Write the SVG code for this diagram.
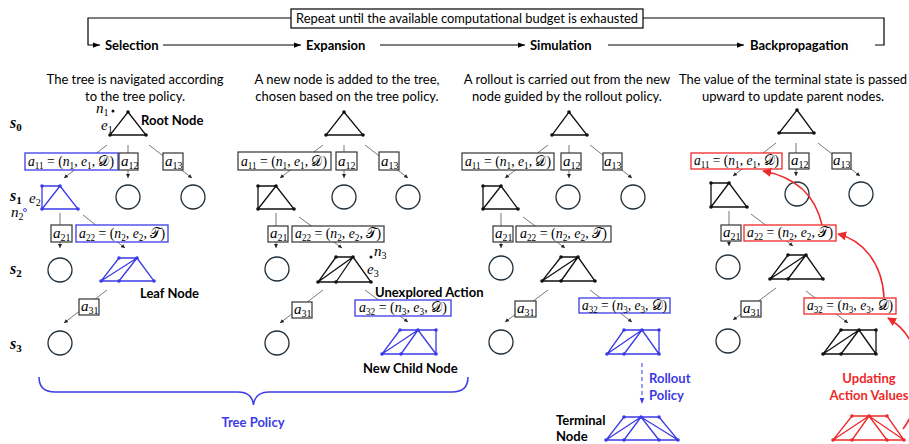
<svg xmlns="http://www.w3.org/2000/svg" width="909" height="444" viewBox="0 0 909 444">
<style>
.t{font-family:Lato,"Open Sans",sans-serif;font-size:13px;fill:#000}
.b{font-family:Lato,"Open Sans",sans-serif;font-size:13px;font-weight:bold;fill:#000}
.blue{fill:#3b3be6}
.red{fill:#ee2a2a}
.m{font-family:"Liberation Serif","DejaVu Serif",serif;font-size:15px;fill:#000}
.i{font-style:italic}
.sb{font-size:10px}
.rl{font-family:"Liberation Serif","DejaVu Serif",serif;font-size:16px;font-weight:bold;font-style:italic}
.rs{font-size:11px;font-style:normal}
.box{fill:#fff;stroke:#333;stroke-width:1.2}
.bbox{fill:#fff;stroke:#3b3be6;stroke-width:1.3}
.rbox{fill:#fff;stroke:#ee2a2a;stroke-width:1.3}
.edge{stroke:#555;stroke-width:0.8;fill:none;marker-end:url(#sa)}
.circ{fill:none;stroke:#1f2f3a;stroke-width:1.3}
.sh{fill:none;stroke:#111;stroke-width:1.3}
.shb{fill:none;stroke:#3b3be6;stroke-width:1.3}
.shr{fill:none;stroke:#ee2a2a;stroke-width:1.3}
.dk{fill:#111}
.db{fill:#3b3be6}
.dr{fill:#ee2a2a}
.line{stroke:#000;stroke-width:1.2;fill:none}
</style>
<defs>
<marker id="ah" viewBox="0 0 8 8" refX="8" refY="4" markerWidth="7" markerHeight="7" markerUnits="userSpaceOnUse" orient="auto"><path d="M0,1 L8,4 L0,7 z" fill="#000"/></marker>
<marker id="sa" viewBox="0 0 6 6" refX="6" refY="3" markerWidth="4" markerHeight="4" markerUnits="userSpaceOnUse" orient="auto"><path d="M0,0 L6,3 L0,6 z" fill="#222"/></marker>
<marker id="ba" viewBox="0 0 8 8" refX="8" refY="4" markerWidth="6" markerHeight="6" markerUnits="userSpaceOnUse" orient="auto"><path d="M0,1 L8,4 L0,7 z" fill="#3b3be6"/></marker>
<marker id="ra" viewBox="0 0 10 10" refX="9" refY="5" markerWidth="9" markerHeight="9" markerUnits="userSpaceOnUse" orient="auto"><path d="M0,0 L10,5 L0,10 z" fill="#ee2a2a"/></marker>
</defs>
<rect width="909" height="444" fill="#fff"/>

<!-- header loop -->
<g id="loop">
<path class="line" d="M291,18 H88 V45 H100" marker-end="url(#ah)"/>
<path class="line" d="M643,18 H884 V45 H875"/>
<rect x="291" y="9" width="352" height="19" fill="#fff" stroke="#000" stroke-width="1.2"/>
<text x="296" y="23" class="t" textLength="342" lengthAdjust="spacingAndGlyphs">Repeat until the available computational budget is exhausted</text>
</g>
<g id="phase-connectors">
<line class="line" x1="163" y1="45" x2="301" y2="45" marker-end="url(#ah)"/>
<line class="line" x1="380" y1="45" x2="525" y2="45" marker-end="url(#ah)"/>
<line class="line" x1="608" y1="45" x2="744" y2="45" marker-end="url(#ah)"/>
</g>
<g id="phase-selection"><text x="105" y="50" class="b">Selection</text>
<text x="135" y="84" class="t" text-anchor="middle">The tree is navigated according</text>
<text x="135" y="101" class="t" text-anchor="middle">to the tree policy.</text></g>
<g id="phase-expansion"><text x="306" y="50" class="b">Expansion</text>
<text x="347" y="84" class="t" text-anchor="middle">A new node is added to the tree,</text>
<text x="347" y="101" class="t" text-anchor="middle">chosen based on the tree policy.</text></g>
<g id="phase-simulation"><text x="530" y="50" class="b">Simulation</text>
<text x="567" y="84" class="t" text-anchor="middle">A rollout is carried out from the new</text>
<text x="567" y="101" class="t" text-anchor="middle">node guided by the rollout policy.</text></g>
<g id="phase-backprop"><text x="750" y="50" class="b">Backpropagation</text>
<text x="793" y="84" class="t" text-anchor="middle">The value of the terminal state is passed</text>
<text x="793" y="101" class="t" text-anchor="middle">upward to update parent nodes.</text></g>

<!-- row labels -->
<g id="rows">
<text x="10" y="128" class="rl">s<tspan class="rs" dy="3">0</tspan></text>
<text x="10" y="201" class="rl">s<tspan class="rs" dy="3">1</tspan></text>
<text x="10" y="274" class="rl">s<tspan class="rs" dy="3">2</tspan></text>
<text x="10" y="349" class="rl">s<tspan class="rs" dy="3">3</tspan></text>
</g>

<!-- connectors -->
<g id="connectors">
<line class="edge" x1="107" y1="145" x2="64" y2="178"/>
<line class="edge" x1="128" y1="145" x2="128" y2="178"/>
<line class="edge" x1="149" y1="145" x2="192" y2="178"/>
<line class="edge" x1="60" y1="213" x2="60" y2="248"/>
<line class="edge" x1="83" y1="215" x2="125" y2="248"/>
<line class="edge" x1="107" y1="290" x2="64" y2="323"/>
<line class="edge" x1="323" y1="145" x2="280" y2="178"/>
<line class="edge" x1="344" y1="145" x2="344" y2="178"/>
<line class="edge" x1="365" y1="145" x2="408" y2="178"/>
<line class="edge" x1="276" y1="213" x2="276" y2="248"/>
<line class="edge" x1="299" y1="217" x2="342" y2="248"/>
<line class="edge" x1="323" y1="290" x2="280" y2="323"/>
<line class="edge" x1="365" y1="290" x2="408" y2="322"/>
<line class="edge" x1="548" y1="145" x2="505" y2="178"/>
<line class="edge" x1="569" y1="145" x2="569" y2="178"/>
<line class="edge" x1="590" y1="145" x2="632" y2="178"/>
<line class="edge" x1="501" y1="213" x2="501" y2="248"/>
<line class="edge" x1="523" y1="217" x2="565" y2="248"/>
<line class="edge" x1="548" y1="290" x2="505" y2="322"/>
<line class="edge" x1="590" y1="290" x2="632" y2="322"/>
<line x1="642" y1="363" x2="642" y2="404" stroke="#3b3be6" stroke-width="1" stroke-dasharray="4,3" marker-end="url(#ba)"/>
<line class="edge" x1="776" y1="143" x2="733" y2="176"/>
<line class="edge" x1="796" y1="143" x2="796" y2="176"/>
<line class="edge" x1="818" y1="143" x2="860" y2="176"/>
<line class="edge" x1="729" y1="211" x2="729" y2="246"/>
<line class="edge" x1="751" y1="214" x2="793" y2="246"/>
<line class="edge" x1="776" y1="288" x2="733" y2="320"/>
<line class="edge" x1="806" y1="291" x2="848" y2="323"/>
</g>

<!-- ===== Column 1: Selection ===== -->
<g id="c1-root">
<path class="sh" d="M128,112 L146,135 H110 Z"/>
<circle class="dk" cx="128" cy="112" r="1.8"/><circle class="dk" cx="110" cy="135" r="1.8"/><circle class="dk" cx="146" cy="135" r="1.8"/>
<text x="96" y="113" class="m i">n<tspan class="sb" dy="3" font-style="normal">1</tspan></text>
<circle cx="113" cy="111" r="1.5" fill="#111"/>
<text x="101" y="130" class="m i">e<tspan class="sb" dy="3" font-style="normal">1</tspan></text>
<text x="141" y="125" class="b">Root Node</text>
</g>
<g id="c1-a11"><rect class="bbox" x="25" y="153" width="93" height="17"/>
<text x="28" y="166" class="m blue" textLength="86" lengthAdjust="spacingAndGlyphs"><tspan class="i">a</tspan><tspan class="sb" dy="3">11</tspan><tspan dy="-3"> = (</tspan><tspan class="i">n</tspan><tspan class="sb" dy="3">1</tspan><tspan dy="-3">, </tspan><tspan class="i">e</tspan><tspan class="sb" dy="3">1</tspan><tspan dy="-3">, 𝒟)</tspan></text></g>
<g id="c1-a12"><rect class="box" x="119" y="153" width="19" height="17"/>
<text x="121" y="166" class="m"><tspan class="i">a</tspan><tspan class="sb" dy="3">12</tspan></text></g>
<g id="c1-a13"><rect class="box" x="163" y="153" width="20" height="17"/>
<text x="165" y="166" class="m"><tspan class="i">a</tspan><tspan class="sb" dy="3">13</tspan></text></g>
<g id="c1-s1-n2"><circle class="circ" cx="128" cy="197" r="12"/></g>
<g id="c1-s1-n3"><circle class="circ" cx="193" cy="197" r="12"/></g>
<g id="c1-s1-n1">
<path class="shb" d="M42,186 H60 L78,209 H42 Z M60,186 L42,209"/>
<circle class="db" cx="42" cy="186" r="1.8"/><circle class="db" cx="60" cy="186" r="1.8"/><circle class="db" cx="42" cy="209" r="1.8"/><circle class="db" cx="78" cy="209" r="1.8"/>
<text x="29" y="203" class="m i blue">e<tspan class="sb" dy="3" font-style="normal">2</tspan></text>
<text x="11" y="217" class="m i blue">n<tspan class="sb" dy="3" font-style="normal">2</tspan></text>
<circle cx="25" cy="210" r="1.5" fill="none" stroke="#3b3be6" stroke-width="0.9"/>
</g>
<g id="c1-a21"><rect class="box" x="51" y="225" width="21" height="17"/>
<text x="53" y="238" class="m"><tspan class="i">a</tspan><tspan class="sb" dy="3">21</tspan></text></g>
<g id="c1-a22"><rect class="bbox" x="76" y="225" width="92" height="17"/>
<text x="79" y="238" class="m blue" textLength="86" lengthAdjust="spacingAndGlyphs"><tspan class="i">a</tspan><tspan class="sb" dy="3">22</tspan><tspan dy="-3"> = (</tspan><tspan class="i">n</tspan><tspan class="sb" dy="3">2</tspan><tspan dy="-3">, </tspan><tspan class="i">e</tspan><tspan class="sb" dy="3">2</tspan><tspan dy="-3">, 𝒯)</tspan></text></g>
<g id="c1-s2-n1"><circle class="circ" cx="60" cy="270" r="12"/></g>
<g id="c1-s2-leaf">
<path class="shb" d="M119,258 H137 L154,281 H101 Z M137,258 L101,281 M137,258 L119,281"/>
<circle class="db" cx="119" cy="258" r="1.8"/><circle class="db" cx="137" cy="258" r="1.8"/><circle class="db" cx="101" cy="281" r="1.8"/><circle class="db" cx="119" cy="281" r="1.8"/><circle class="db" cx="154" cy="281" r="1.8"/>
<text x="140" y="298" class="b">Leaf Node</text>
</g>
<g id="c1-a31"><rect class="box" x="79" y="299" width="20" height="16"/>
<text x="81" y="311" class="m"><tspan class="i">a</tspan><tspan class="sb" dy="3">31</tspan></text></g>
<g id="c1-s3-n1"><circle class="circ" cx="60" cy="343" r="12"/></g>
<g id="tree-policy">
<path d="M39,377 Q39,392 55,392 L238,392 Q252,392 253.5,405 Q255,392 269,392 L452,392 Q468,392 468,377" fill="none" stroke="#3b3be6" stroke-width="1.5"/>
<text x="253" y="427" class="b blue" text-anchor="middle">Tree Policy</text>
</g>

<!-- ===== Column 2: Expansion ===== -->
<g id="c2-root">
<path class="sh" d="M344,112 L363,135 H326 Z"/>
<circle class="dk" cx="344" cy="112" r="1.8"/><circle class="dk" cx="326" cy="135" r="1.8"/><circle class="dk" cx="363" cy="135" r="1.8"/>
</g>
<g id="c2-a11"><rect class="box" x="238" y="152" width="93" height="18"/>
<text x="241" y="166" class="m" textLength="86" lengthAdjust="spacingAndGlyphs"><tspan class="i">a</tspan><tspan class="sb" dy="3">11</tspan><tspan dy="-3"> = (</tspan><tspan class="i">n</tspan><tspan class="sb" dy="3">1</tspan><tspan dy="-3">, </tspan><tspan class="i">e</tspan><tspan class="sb" dy="3">1</tspan><tspan dy="-3">, 𝒟)</tspan></text></g>
<g id="c2-a12"><rect class="box" x="336" y="152" width="21" height="18"/>
<text x="338" y="166" class="m"><tspan class="i">a</tspan><tspan class="sb" dy="3">12</tspan></text></g>
<g id="c2-a13"><rect class="box" x="379" y="152" width="20" height="18"/>
<text x="381" y="166" class="m"><tspan class="i">a</tspan><tspan class="sb" dy="3">13</tspan></text></g>
<g id="c2-s1-n2"><circle class="circ" cx="344" cy="197" r="12"/></g>
<g id="c2-s1-n3"><circle class="circ" cx="408" cy="197" r="12"/></g>
<g id="c2-s1-n1">
<path class="sh" d="M258,186 H276 L294,209 H258 Z M276,186 L258,209"/>
<circle class="dk" cx="258" cy="186" r="1.8"/><circle class="dk" cx="276" cy="186" r="1.8"/><circle class="dk" cx="258" cy="209" r="1.8"/><circle class="dk" cx="294" cy="209" r="1.8"/>
</g>
<g id="c2-a21"><rect class="box" x="268" y="226" width="20" height="16"/>
<text x="270" y="238" class="m"><tspan class="i">a</tspan><tspan class="sb" dy="3">21</tspan></text></g>
<g id="c2-a22"><rect class="box" x="292" y="226" width="92" height="16"/>
<text x="295" y="238" class="m" textLength="86" lengthAdjust="spacingAndGlyphs"><tspan class="i">a</tspan><tspan class="sb" dy="3">22</tspan><tspan dy="-3"> = (</tspan><tspan class="i">n</tspan><tspan class="sb" dy="3">2</tspan><tspan dy="-3">, </tspan><tspan class="i">e</tspan><tspan class="sb" dy="3">2</tspan><tspan dy="-3">, 𝒯)</tspan></text></g>
<g id="c2-s2-n1"><circle class="circ" cx="277" cy="269" r="12"/></g>
<g id="c2-s2-n2">
<path class="sh" d="M336,257 H353 L371,282 H318 Z M353,257 L318,282 M353,257 L336,282"/>
<circle class="dk" cx="336" cy="257" r="1.8"/><circle class="dk" cx="353" cy="257" r="1.8"/><circle class="dk" cx="318" cy="282" r="1.8"/><circle class="dk" cx="336" cy="282" r="1.8"/><circle class="dk" cx="371" cy="282" r="1.8"/>
<circle cx="371" cy="257" r="1.5" fill="#111"/>
<text x="374" y="256" class="m i">n<tspan class="sb" dy="3" font-style="normal">3</tspan></text>
<text x="367" y="274" class="m i">e<tspan class="sb" dy="3" font-style="normal">3</tspan></text>
<text x="375" y="297" class="b">Unexplored Action</text>
</g>
<g id="c2-a31"><rect class="box" x="292" y="302" width="20" height="16"/>
<text x="294" y="314" class="m"><tspan class="i">a</tspan><tspan class="sb" dy="3">31</tspan></text></g>
<g id="c2-a32"><rect class="bbox" x="355" y="300" width="96" height="16"/>
<text x="359" y="312" class="m blue" textLength="88" lengthAdjust="spacingAndGlyphs"><tspan class="i">a</tspan><tspan class="sb" dy="3">32</tspan><tspan dy="-3"> = (</tspan><tspan class="i">n</tspan><tspan class="sb" dy="3">3</tspan><tspan dy="-3">, </tspan><tspan class="i">e</tspan><tspan class="sb" dy="3">3</tspan><tspan dy="-3">, 𝒟)</tspan></text></g>
<g id="c2-s3-n1"><circle class="circ" cx="277" cy="343" r="12"/></g>
<g id="c2-s3-new">
<path class="shb" d="M400,330 H436 V354 H382 Z M418,330 L382,354 M418,330 L401,354 M418,330 L436,354"/>
<circle class="db" cx="400" cy="330" r="1.8"/><circle class="db" cx="418" cy="330" r="1.8"/><circle class="db" cx="436" cy="330" r="1.8"/><circle class="db" cx="382" cy="354" r="1.8"/><circle class="db" cx="401" cy="354" r="1.8"/><circle class="db" cx="436" cy="354" r="1.8"/>
<text x="363" y="373" class="b">New Child Node</text>
</g>

<!-- ===== Column 3: Simulation ===== -->
<g id="c3-root">
<path class="sh" d="M569,112 L587,135 H552 Z"/>
<circle class="dk" cx="569" cy="112" r="1.8"/><circle class="dk" cx="552" cy="135" r="1.8"/><circle class="dk" cx="587" cy="135" r="1.8"/>
</g>
<g id="c3-a11"><rect class="box" x="462" y="153" width="92" height="17"/>
<text x="465" y="166" class="m" textLength="86" lengthAdjust="spacingAndGlyphs"><tspan class="i">a</tspan><tspan class="sb" dy="3">11</tspan><tspan dy="-3"> = (</tspan><tspan class="i">n</tspan><tspan class="sb" dy="3">1</tspan><tspan dy="-3">, </tspan><tspan class="i">e</tspan><tspan class="sb" dy="3">1</tspan><tspan dy="-3">, 𝒟)</tspan></text></g>
<g id="c3-a12"><rect class="box" x="561" y="153" width="20" height="17"/>
<text x="563" y="166" class="m"><tspan class="i">a</tspan><tspan class="sb" dy="3">12</tspan></text></g>
<g id="c3-a13"><rect class="box" x="603" y="153" width="19" height="17"/>
<text x="604" y="166" class="m"><tspan class="i">a</tspan><tspan class="sb" dy="3">13</tspan></text></g>
<g id="c3-s1-n2"><circle class="circ" cx="568" cy="197" r="12"/></g>
<g id="c3-s1-n3"><circle class="circ" cx="633" cy="197" r="12"/></g>
<g id="c3-s1-n1">
<path class="sh" d="M483,186 H501 L518,209 H483 Z M501,186 L483,209"/>
<circle class="dk" cx="483" cy="186" r="1.8"/><circle class="dk" cx="501" cy="186" r="1.8"/><circle class="dk" cx="483" cy="209" r="1.8"/><circle class="dk" cx="518" cy="209" r="1.8"/>
</g>
<g id="c3-a21"><rect class="box" x="493" y="226" width="20" height="16"/>
<text x="495" y="238" class="m"><tspan class="i">a</tspan><tspan class="sb" dy="3">21</tspan></text></g>
<g id="c3-a22"><rect class="box" x="516" y="226" width="95" height="16"/>
<text x="520" y="238" class="m" textLength="87" lengthAdjust="spacingAndGlyphs"><tspan class="i">a</tspan><tspan class="sb" dy="3">22</tspan><tspan dy="-3"> = (</tspan><tspan class="i">n</tspan><tspan class="sb" dy="3">2</tspan><tspan dy="-3">, </tspan><tspan class="i">e</tspan><tspan class="sb" dy="3">2</tspan><tspan dy="-3">, 𝒯)</tspan></text></g>
<g id="c3-s2-n1"><circle class="circ" cx="501" cy="268" r="12"/></g>
<g id="c3-s2-n2">
<path class="sh" d="M561,257 H578 L595,281 H542 Z M578,257 L542,281 M578,257 L561,281"/>
<circle class="dk" cx="561" cy="257" r="1.8"/><circle class="dk" cx="578" cy="257" r="1.8"/><circle class="dk" cx="542" cy="281" r="1.8"/><circle class="dk" cx="561" cy="281" r="1.8"/><circle class="dk" cx="595" cy="281" r="1.8"/>
</g>
<g id="c3-a31"><rect class="box" x="515" y="301" width="21" height="16"/>
<text x="517" y="313" class="m"><tspan class="i">a</tspan><tspan class="sb" dy="3">31</tspan></text></g>
<g id="c3-a32"><rect class="bbox" x="579" y="298" width="91" height="15"/>
<text x="582" y="310" class="m blue" textLength="85" lengthAdjust="spacingAndGlyphs"><tspan class="i">a</tspan><tspan class="sb" dy="3">32</tspan><tspan dy="-3"> = (</tspan><tspan class="i">n</tspan><tspan class="sb" dy="3">3</tspan><tspan dy="-3">, </tspan><tspan class="i">e</tspan><tspan class="sb" dy="3">3</tspan><tspan dy="-3">, 𝒟)</tspan></text></g>
<g id="c3-s3-n1"><circle class="circ" cx="501" cy="342" r="12"/></g>
<g id="c3-s3-new">
<path class="shb" d="M624,330 H659 V354 H607 Z M642,330 L607,354 M642,330 L624,354 M642,330 L659,354"/>
<circle class="db" cx="624" cy="330" r="1.8"/><circle class="db" cx="642" cy="330" r="1.8"/><circle class="db" cx="659" cy="330" r="1.8"/><circle class="db" cx="607" cy="354" r="1.8"/><circle class="db" cx="624" cy="354" r="1.8"/><circle class="db" cx="659" cy="354" r="1.8"/>
</g>
<g id="c3-rollout-label">
<text x="649" y="383" class="b blue">Rollout</text>
<text x="649" y="400" class="b blue">Policy</text>
</g>
<g id="c3-terminal">
<path class="shb" d="M624,417 H659 L678,440 H606 Z M641,417 L606,440 M641,417 L624,440 M641,417 L659,440 M641,417 L678,440"/>
<circle class="db" cx="624" cy="417" r="1.8"/><circle class="db" cx="641" cy="417" r="1.8"/><circle class="db" cx="659" cy="417" r="1.8"/><circle class="db" cx="606" cy="440" r="1.8"/><circle class="db" cx="624" cy="440" r="1.8"/><circle class="db" cx="659" cy="440" r="1.8"/><circle class="db" cx="678" cy="440" r="1.8"/>
<text x="556" y="425" class="b">Terminal</text>
<text x="556" y="441" class="b">Node</text>
</g>

<!-- ===== Column 4: Backpropagation ===== -->
<g id="c4-root">
<path class="sh" d="M797,110 L814,133 H779 Z"/>
<circle class="dk" cx="797" cy="110" r="1.8"/><circle class="dk" cx="779" cy="133" r="1.8"/><circle class="dk" cx="814" cy="133" r="1.8"/>
</g>
<g id="c4-a11"><rect class="rbox" x="691" y="153" width="91" height="16"/>
<text x="694" y="165" class="m red" textLength="85" lengthAdjust="spacingAndGlyphs"><tspan class="i">a</tspan><tspan class="sb" dy="3">11</tspan><tspan dy="-3"> = (</tspan><tspan class="i">n</tspan><tspan class="sb" dy="3">1</tspan><tspan dy="-3">, </tspan><tspan class="i">e</tspan><tspan class="sb" dy="3">1</tspan><tspan dy="-3">, 𝒟)</tspan></text></g>
<g id="c4-a12"><rect class="box" x="789" y="153" width="20" height="16"/>
<text x="791" y="165" class="m"><tspan class="i">a</tspan><tspan class="sb" dy="3">12</tspan></text></g>
<g id="c4-a13"><rect class="box" x="832" y="153" width="19" height="16"/>
<text x="833" y="165" class="m"><tspan class="i">a</tspan><tspan class="sb" dy="3">13</tspan></text></g>
<g id="c4-s1-n2"><circle class="circ" cx="797" cy="194" r="12"/></g>
<g id="c4-s1-n3"><circle class="circ" cx="861" cy="194" r="12"/></g>
<g id="c4-s1-n1">
<path class="sh" d="M711,183 H729 L747,207 H711 Z M729,183 L711,207"/>
<circle class="dk" cx="711" cy="183" r="1.8"/><circle class="dk" cx="729" cy="183" r="1.8"/><circle class="dk" cx="711" cy="207" r="1.8"/><circle class="dk" cx="747" cy="207" r="1.8"/>
</g>
<g id="c4-a21"><rect class="box" x="721" y="225" width="20" height="16"/>
<text x="723" y="237" class="m"><tspan class="i">a</tspan><tspan class="sb" dy="3">21</tspan></text></g>
<g id="c4-a22"><rect class="rbox" x="744" y="225" width="92" height="16"/>
<text x="747" y="237" class="m red" textLength="86" lengthAdjust="spacingAndGlyphs"><tspan class="i">a</tspan><tspan class="sb" dy="3">22</tspan><tspan dy="-3"> = (</tspan><tspan class="i">n</tspan><tspan class="sb" dy="3">2</tspan><tspan dy="-3">, </tspan><tspan class="i">e</tspan><tspan class="sb" dy="3">2</tspan><tspan dy="-3">, 𝒯)</tspan></text></g>
<g id="c4-s2-n1"><circle class="circ" cx="728" cy="267" r="12"/></g>
<g id="c4-s2-n2">
<path class="sh" d="M788,255 H806 L823,279 H770 Z M806,255 L770,279 M806,255 L788,279"/>
<circle class="dk" cx="788" cy="255" r="1.8"/><circle class="dk" cx="806" cy="255" r="1.8"/><circle class="dk" cx="770" cy="279" r="1.8"/><circle class="dk" cx="788" cy="279" r="1.8"/><circle class="dk" cx="823" cy="279" r="1.8"/>
</g>
<g id="c4-a31"><rect class="box" x="741" y="301" width="20" height="16"/>
<text x="743" y="313" class="m"><tspan class="i">a</tspan><tspan class="sb" dy="3">31</tspan></text></g>
<g id="c4-a32"><rect class="rbox" x="804" y="298" width="92" height="16"/>
<text x="807" y="310" class="m red" textLength="86" lengthAdjust="spacingAndGlyphs"><tspan class="i">a</tspan><tspan class="sb" dy="3">32</tspan><tspan dy="-3"> = (</tspan><tspan class="i">n</tspan><tspan class="sb" dy="3">3</tspan><tspan dy="-3">, </tspan><tspan class="i">e</tspan><tspan class="sb" dy="3">3</tspan><tspan dy="-3">, 𝒟)</tspan></text></g>
<g id="c4-s3-n1"><circle class="circ" cx="728" cy="341" r="12"/></g>
<g id="c4-s3-new">
<path class="sh" d="M841,330 H876 V354 H823 Z M859,330 L823,354 M859,330 L841,354 M859,330 L876,354"/>
<circle class="dk" cx="841" cy="330" r="1.8"/><circle class="dk" cx="859" cy="330" r="1.8"/><circle class="dk" cx="876" cy="330" r="1.8"/><circle class="dk" cx="823" cy="354" r="1.8"/><circle class="dk" cx="841" cy="354" r="1.8"/><circle class="dk" cx="876" cy="354" r="1.8"/>
</g>
<g id="c4-update-label">
<text x="869" y="383" class="b red" text-anchor="middle">Updating</text>
<text x="869" y="400" class="b red" text-anchor="middle">Action Values</text>
</g>
<g id="c4-terminal">
<path class="shr" d="M852,416 H887 L904,440 H833 Z M869,416 L833,440 M869,416 L852,440 M869,416 L887,440 M869,416 L904,440"/>
<circle class="dr" cx="852" cy="416" r="1.8"/><circle class="dr" cx="869" cy="416" r="1.8"/><circle class="dr" cx="887" cy="416" r="1.8"/><circle class="dr" cx="833" cy="440" r="1.8"/><circle class="dr" cx="852" cy="440" r="1.8"/><circle class="dr" cx="887" cy="440" r="1.8"/><circle class="dr" cx="904" cy="440" r="1.8"/>
</g>
<g id="backprop-arrows" fill="none" stroke="#ee2a2a" stroke-width="1.6">
<path d="M822,225 Q812,180 763,171" marker-end="url(#ra)"/>
<path d="M884,297 C882,262 862,240 838,234" marker-end="url(#ra)"/>
<path d="M903,429 C928,395 926,340 888,318" marker-end="url(#ra)"/>
</g>
</svg>
